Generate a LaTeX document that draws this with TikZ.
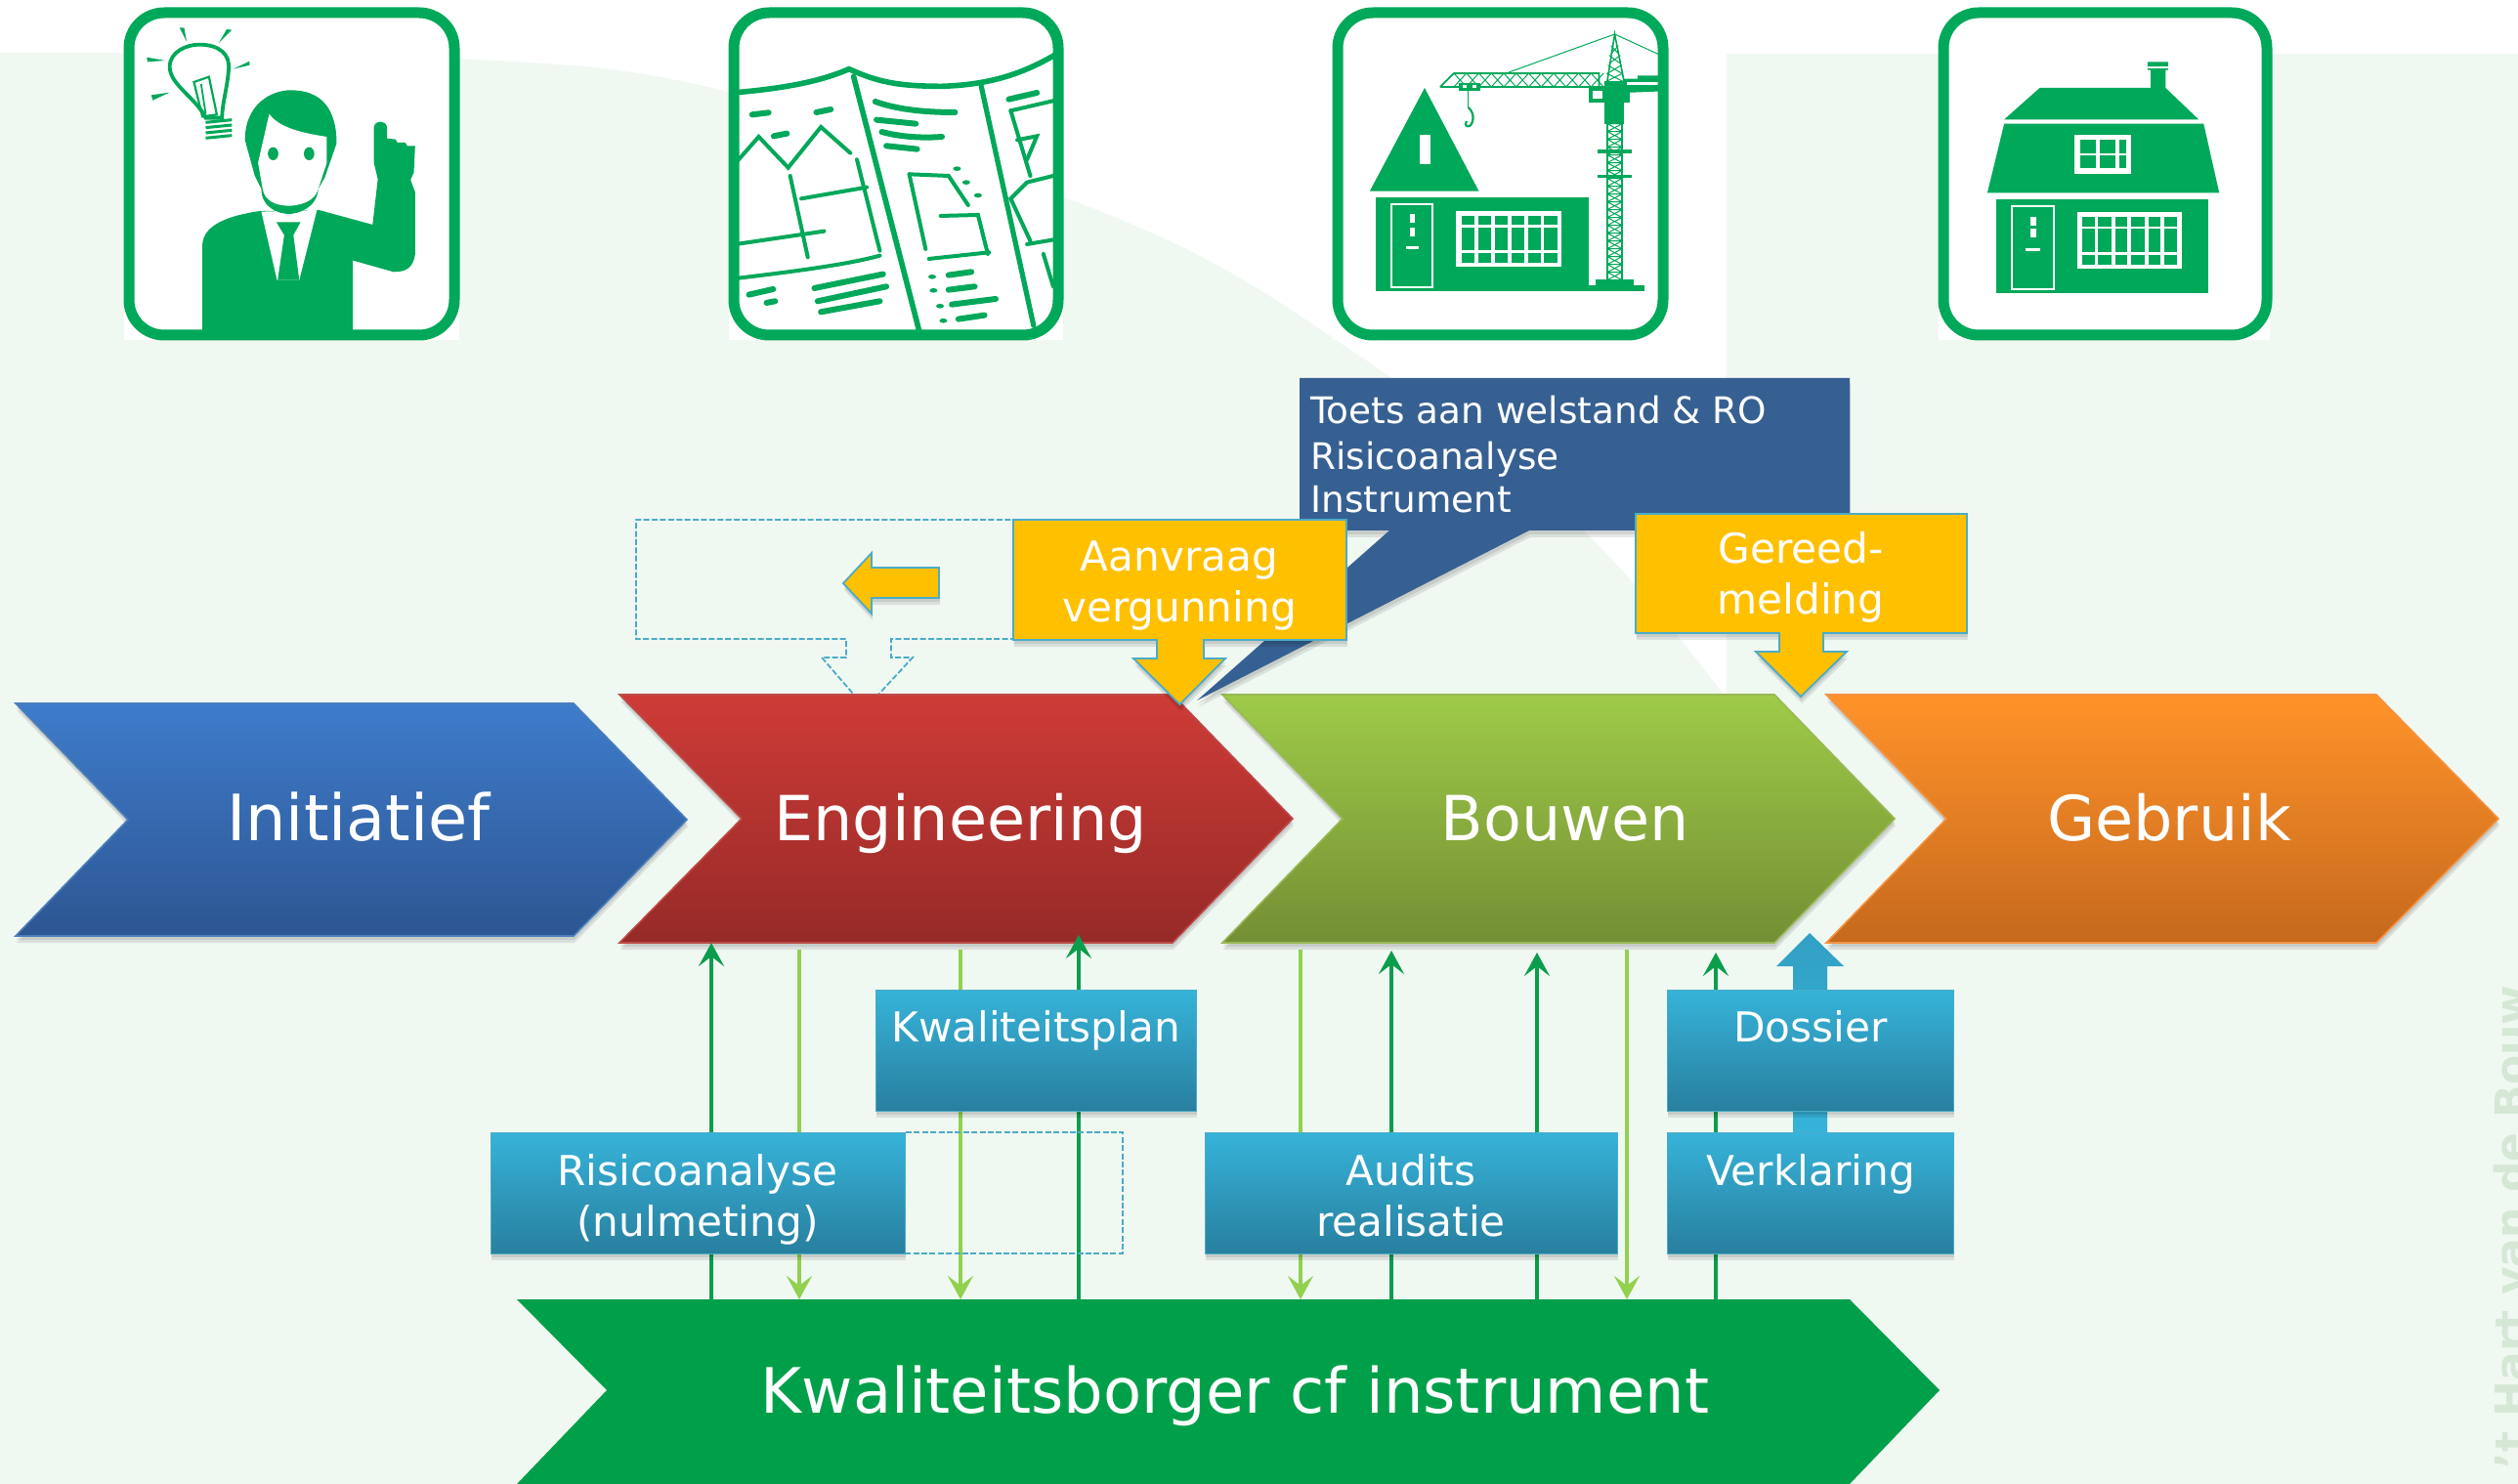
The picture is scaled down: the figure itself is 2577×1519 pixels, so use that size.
\documentclass[tikz,border=0pt]{standalone}
\usepackage{fontspec}
\setmainfont{DejaVu Sans}
\usetikzlibrary{arrows.meta,shadows}
\definecolor{pale}{HTML}{F0F8F2}
\definecolor{ic}{HTML}{00A859}
\definecolor{kb}{HTML}{00A04A}
\definecolor{lg}{HTML}{92D050}
\definecolor{dg}{HTML}{0A9E4C}
\definecolor{yl}{HTML}{FFC000}
\definecolor{tl}{HTML}{4BACC6}
\definecolor{navy}{HTML}{376092}
\definecolor{wm}{HTML}{D5E8D6}
\definecolor{boxT}{HTML}{36B3D9}
\definecolor{boxM}{HTML}{31A0C4}
\definecolor{boxB}{HTML}{287F9E}
\definecolor{boxE}{HTML}{4BACC6}
\definecolor{chevBlueT}{HTML}{3E7CCB}
\definecolor{chevBlueB}{HTML}{2D5692}
\definecolor{chevBlueE}{HTML}{4A7EBB}
\definecolor{chevRedT}{HTML}{CE3B37}
\definecolor{chevRedB}{HTML}{962A27}
\definecolor{chevRedE}{HTML}{BE4B48}
\definecolor{chevGrnT}{HTML}{9ECB48}
\definecolor{chevGrnB}{HTML}{748F34}
\definecolor{chevGrnE}{HTML}{98B954}
\definecolor{chevOrT}{HTML}{FF9329}
\definecolor{chevOrB}{HTML}{C6691D}
\definecolor{chevOrE}{HTML}{F69240}
\newcommand{\fs}[1]{\fontsize{#1}{#1}\selectfont}
\tikzset{
  x=0.5pt,y=-0.5pt,
  sh/.style={general shadow={shadow xshift=.5pt,shadow yshift=-3.5pt,fill=black,opacity=.09},general shadow={shadow xshift=.3pt,shadow yshift=-2pt,fill=black,opacity=.09}},
  chev/.style={sh,line width=.8pt},
  big/.style={text=white,anchor=base,inner sep=0pt,font=\fs{31.8}},
  lbl/.style={text=white,anchor=base,inner sep=0pt,font=\fs{21.1}},
  tlbl/.style={text=white,anchor=base west,inner sep=0pt,font=\fs{18.7}},
  bluebox/.style={rectangle,anchor=north west,inner sep=0pt,sh,top color=boxT,middle color=boxM,bottom color=boxB,draw=boxE,line width=.4pt},
  yellowbox/.style={sh,fill=yl,draw=tl,line width=.9pt},
  dashbox/.style={draw=tl,line width=.9pt,dash pattern=on 3pt off 1.2pt},
  uparrow/.style={draw=dg,line width=2.2pt,-{Stealth[length=12pt,width=13pt,inset=5pt]}},
  downarrow/.style={draw=lg,line width=2.2pt,-{Stealth[length=12pt,width=13pt,inset=5pt]}},
  iline/.style={draw=ic,line width=2pt,line cap=round},
  iz1/.style={shift={(100,0)},xscale=0.6698,yscale=0.3333},
  iz2/.style={shift={(1340,0)},xscale=0.6378,yscale=0.3333},
  iconframe/.style={draw=ic,line width=5.5pt,rounded corners=18pt},
}
\begin{document}
\begin{tikzpicture}
\useasboundingbox (0,0) rectangle (2577,1519);
\clip (0,0) rectangle (2577,1519);
% background
\fill[white] (0,0) rectangle (2577,1519);
\fill[pale] (0,54) -- plot[smooth,tension=.6] coordinates {(0,54) (468,60) (750,95) (1150,226) (1385,360) (1620,543) (1763,710)} -- (1767,710) -- (1767,1519) -- (0,1519) -- cycle;
\fill[pale] (1767,55) rectangle (2577,1519);
% watermark
\node[rotate=90,anchor=base east,inner sep=0pt,text=wm,font={\bfseries\fs{22}}] (wmark) at (2585,1008) {’t Hart van de Bouw};

% ---- icon 1: man
\fill[white] (127,8) rectangle (470,348);
\begin{scope}[iz1]
\fill[ic] (160,1015) -- (160,750) .. controls (162,690) and (200,662) .. (248,648) -- (338,645) -- (420,690) -- (428,550) -- (422,500) -- (422,390) .. controls (424,368) and (440,368) .. (442,390) -- (442,425) -- (455,428) -- (458,438) -- (470,438) -- (473,448) -- (485,448) -- (483,530) -- (478,552) -- (485,590) -- (485,780) .. controls (482,825) and (470,835) .. (452,835) -- (390,800) -- (390,1015) -- cycle;
\fill[white] (250,650) -- (274,860) -- (308,860) -- (335,645) -- cycle;
\fill[ic] (273,682) -- (310,682) -- (299,722) -- (308,860) -- (275,860) -- (285,722) -- cycle;
\fill[ic] (225,430) .. controls (225,320) and (265,277) .. (295,277) .. controls (340,277) and (365,330) .. (365,440) -- (347,545) -- (337,580) .. controls (335,640) and (305,657) .. (292,657) .. controls (278,657) and (250,640) .. (250,580) -- (240,540) -- cycle;
\fill[white] (262,350) .. controls (275,385) and (300,405) .. (350,420) -- (350,500) -- (337,580) .. controls (332,622) and (305,632) .. (292,632) .. controls (275,632) and (255,620) .. (252,580) -- (245,500) -- cycle;
\fill[ic] (268,472) ellipse [x radius=8,y radius=20];
\fill[ic] (323,472) ellipse [x radius=8,y radius=20];
% bulb
\draw[ic,line width=1.9pt] (165,362) .. controls (150,300) and (110,260) .. (110,205) .. controls (110,160) and (135,137) .. (155,137) .. controls (185,137) and (203,165) .. (200,215) .. controls (198,270) and (190,320) .. (190,362) -- cycle;
\draw[ic,line width=1.1pt] (147,252) -- (170,236) -- (182,352) -- (160,358) -- cycle;
\draw[ic,line width=.9pt] (158,258) -- (165,350);
\foreach \yy in {376,392,408,424} \draw[ic,line width=1.5pt] (165,\yy) -- (205,\yy-8);
\fill[ic] (125,85) -- (132,85) -- (136,128) -- cycle;
\fill[ic] (197,90) -- (205,92) -- (185,132) -- cycle;
\fill[ic] (75,176) -- (103,186) -- (76,190) -- cycle;
\fill[ic] (232,188) -- (232,200) -- (207,212) -- cycle;
\fill[ic] (82,292) -- (110,284) -- (84,308) -- cycle;
\end{scope}
\draw[iconframe] (132,13) rectangle (465,343);

% ---- icon 2: plan
\fill[white] (746,8) rectangle (1088,348);
\begin{scope}
\clip[rounded corners=18pt] (751,13) rectangle (1083,343);
\begin{scope}[iz1]
\draw[iline,line width=2.8pt] (970,285) .. controls (1060,270) and (1110,245) .. (1148,212) .. controls (1190,250) and (1220,265) .. (1290,265) .. controls (1370,260) and (1420,220) .. (1470,160);
\draw[iline,line width=2.8pt] (1155,235) -- (1255,1015);
\draw[iline,line width=2.6pt] (1350,265) -- (1430,1000);
\foreach \a/\b in {{(1000,352)}/{(1025,346)},{(1098,345)}/{(1120,336)},{(1033,418)}/{(1053,410)},{(1392,305)}/{(1435,285)},{(995,905)}/{(1032,888)},{(1022,930)}/{(1035,925)},{(1095,885)}/{(1200,842)},{(1100,925)}/{(1205,880)},{(1105,958)}/{(1195,925)},{(1190,368)}/{(1250,380)},{(1205,448)}/{(1252,458)},{(1300,845)}/{(1335,835)},{(1300,890)}/{(1340,880)},{(1305,935)}/{(1372,918)},{(1315,980)}/{(1355,968)}}
  \draw[iline,line width=3pt] \a -- \b;
\draw[iline] (975,500) -- (1010,420) -- (1055,515) -- (1105,390) -- (1150,470);
\draw[iline] (1160,490) -- (1195,770);
\draw[iline] (1058,540) -- (1085,790);
\draw[iline] (1075,610) -- (1175,575);
\draw[iline] (975,750) -- (1110,710);
\draw[iline] (975,855) .. controls (1080,830) and (1150,810) .. (1195,785);
\draw[iline,line width=3pt] (1188,312) .. controls (1220,335) and (1260,345) .. (1310,345);
\draw[iline,line width=3pt] (1198,405) .. controls (1225,420) and (1260,425) .. (1290,420);
\foreach \p in {(1313,518),(1327,560),(1345,600),(1275,850),(1277,892),(1287,940),(1292,985)}
  \fill[ic] \p circle [x radius=6,y radius=7];
\draw[iline] (1240,535) -- (1265,765);
\draw[iline] (1240,535) -- (1300,540) -- (1330,630);
\draw[iline] (1288,663) -- (1345,660) -- (1360,780);
\draw[iline] (1270,795) -- (1362,775);
\draw[iline] (1395,340) -- (1470,305);
\draw[iline] (1395,340) -- (1425,540);
\draw[iline] (1405,430) -- (1435,418) -- (1420,490);
\draw[iline] (1470,535) -- (1420,560) -- (1395,610) -- (1425,740);
\draw[iline] (1420,750) -- (1470,733);
\draw[iline] (1445,780) -- (1460,880);
\end{scope}
\end{scope}
\draw[iconframe] (751,13) rectangle (1083,343);

% ---- icon 3: crane
\fill[white] (1364,8) rectangle (1707,348);
\begin{scope}
\clip[rounded corners=18pt] (1369,13) rectangle (1702,343);
\begin{scope}[iz2]
\fill[ic] (185,270) -- (272,587) -- (97,587) -- cycle;
\fill[white] (177,415) rectangle (195,503);
\fill[ic] (107,605) rectangle (448,893);
\draw[white,line width=1pt] (132,627) rectangle (198,882);
\fill[white] (162,658) rectangle (170,685);
\fill[white] (162,698) rectangle (170,725);
\fill[white] (155,757) rectangle (176,764);
\fill[white] (235,648) rectangle (405,820);
\foreach \xa/\xb in {244/265,271/292,298/318,324/345,351/371,377/398}
  \foreach \ya/\yb in {662/690,698/768,778/806}
    \fill[ic] (\xa,\ya) rectangle (\xb,\yb);
% tower
\foreach \yy in {380,404,...,836} {
  \draw[ic,line width=.5pt] (478,\yy) -- (502,\yy+24) (502,\yy) -- (478,\yy+24) (478,\yy) -- (502,\yy);
}
\draw[ic,line width=.9pt] (478,380) -- (478,860) (502,380) -- (502,860);
\fill[ic] (463,460) rectangle (518,470);
\fill[ic] (463,536) rectangle (518,546);
\fill[ic] (460,858) rectangle (520,876);
\fill[ic] (448,875) rectangle (538,893);
% head
\fill[ic] (474,250) rectangle (505,380);
\fill[ic] (448,265) rectangle (515,315);
\fill[white] (454,278) rectangle (470,302);
\fill[ic] (505,242) -- (527,242) -- (527,232) -- (570,232) -- (570,280) -- (505,285) -- cycle;
\fill[white] (510,252) rectangle (570,260);
% mast
\draw[ic,line width=.8pt] (478,250) -- (490,105) -- (505,250);
\foreach \yy/\hw in {140/6,170/9,200/11,225/13} \draw[ic,line width=.5pt] (490-\hw,\yy) -- (490+\hw,\yy+25) (490+\hw,\yy) -- (490-\hw,\yy+25);
\draw[ic,line width=.5pt] (320,222) -- (490,105) -- (570,175);
% jib
\draw[ic,line width=.9pt] (210,267) -- (465,267) (232,225) -- (465,225) -- (465,267) (210,267) -- (232,225);
\foreach \xx in {232,252,...,452} \draw[ic,line width=.5pt] (\xx,225) -- (\xx+20,267) (\xx+20,225) -- (\xx,267);
% trolley + hook
\fill[ic] (240,255) rectangle (275,280);
\fill[white] (246,262) rectangle (252,270);
\fill[white] (262,262) rectangle (268,270);
\draw[ic,line width=.8pt] (255,280) -- (255,330);
\draw[ic,line width=1.1pt] (255,330) .. controls (268,350) and (262,388) .. (255,388) .. controls (250,388) and (250,378) .. (252,372);
\end{scope}
\end{scope}
\draw[iconframe] (1369,13) rectangle (1702,343);

% ---- icon 4: house
\fill[white] (1984,8) rectangle (2323,348);
\begin{scope}[iz2]
\fill[ic] (1172,270) -- (1350,270) -- (1350,215) -- (1345,215) -- (1345,190) -- (1378,190) -- (1378,215) -- (1374,215) -- (1374,270) -- (1427,367) -- (1115,367) -- cycle;
\fill[white] (1345,205) rectangle (1378,209);
\fill[ic] (1115,380) -- (1435,380) -- (1460,592) -- (1088,592) -- cycle;
\fill[white] (1228,413) rectangle (1318,533);
\foreach \xa/\xb in {1237/1262,1268/1293,1299/1310}
  \foreach \ya/\yb in {430/470,477/517}
    \fill[ic] (\xa,\ya) rectangle (\xb,\yb);
\fill[ic] (1102,612) rectangle (1443,900);
\draw[white,line width=1pt] (1128,632) rectangle (1195,888);
\fill[white] (1157,665) rectangle (1166,692);
\fill[white] (1157,703) rectangle (1166,730);
\fill[white] (1150,763) rectangle (1172,770);
\fill[white] (1232,652) rectangle (1400,825);
\foreach \xa/\xb in {1240/1260,1266/1287,1293/1313,1319/1340,1346/1366,1372/1392}
  \foreach \ya/\yb in {667/695,702/775,782/812}
    \fill[ic] (\xa,\ya) rectangle (\xb,\yb);
\end{scope}
\draw[iconframe] (1989,13) rectangle (2320,343);

% ---- dashed frames (behind)
\draw[dashbox] (1124,654) -- (912,654) -- (912,673) -- (934,673) -- (886,725) -- (841,673) -- (866,673) -- (866,654) -- (651,654) -- (651,532) -- (1124,532);

% ---- main chevrons
\path[chev,top color=chevBlueT,bottom color=chevBlueB,draw=chevBlueE] (16,720) -- (587,720) -- (703,839) -- (587,958) -- (16,958) -- (131,839) -- cycle;
\node[big,font=\fs{32.7}] (initiatief) at (367,860) {Initiatief};

% ---- connector end points
\coordinate (dA) at (728,1330);  \coordinate (uA) at (728,965);
\coordinate (sB) at (818,972);   \coordinate (eB) at (818,1330);
\coordinate (sC) at (983,972);   \coordinate (eC) at (983,1330);
\coordinate (dD) at (1104,1330); \coordinate (uD) at (1104,957);
\coordinate (sE) at (1331,972);  \coordinate (eE) at (1331,1330);
\coordinate (dF) at (1424,1330); \coordinate (uF) at (1424,973);
\coordinate (dG) at (1573,1330); \coordinate (uG) at (1573,975);
\coordinate (sH) at (1665,972);  \coordinate (eH) at (1665,1330);
\coordinate (dI) at (1756,1330); \coordinate (uI) at (1756,975);

\path[chev,top color=chevRedT,bottom color=chevRedB,draw=chevRedE] (634,711) -- (1200,711) -- (1323,838) -- (1200,965) -- (634,965) -- (759,838) -- cycle;
\path[chev,top color=chevGrnT,bottom color=chevGrnB,draw=chevGrnE] (1251,711) -- (1816,711) -- (1939,838) -- (1816,965) -- (1251,965) -- (1374,838) -- cycle;
\path[chev,top color=chevOrT,bottom color=chevOrB,draw=chevOrE] (1869,711) -- (2432,711) -- (2557,838) -- (2432,965) -- (1869,965) -- (1992,838) -- cycle;
\node[big] (engineering) at (983,860) {Engineering};
\node[big] (bouwen) at (1602,860) {Bouwen};
\node[big] (gebruik) at (2220,860) {Gebruik};

% ---- quality-assurer bar
\fill[kb] (529,1330) -- (1893,1330) -- (1985,1423) -- (1893,1519) -- (529,1519) -- (621,1423) -- cycle;
\node[text=white,anchor=base,inner sep=0pt,font=\fs{32}] (kwal) at (1264,1446) {Kwaliteitsborger cf instrument};

% ---- vertical connectors
\draw[uparrow] (dA) -- (uA);
\draw[downarrow] (sB) -- (eB);
\draw[downarrow] (sC) -- (eC);
\draw[uparrow] (dD) -- (uD);
\draw[downarrow] (sE) -- (eE);
\draw[uparrow] (dF) -- (uF);
\draw[uparrow] (dG) -- (uG);
\draw[downarrow] (sH) -- (eH);
\draw[uparrow] (dI) -- (uI);

% thick blue arrow
\path[top color=boxM,bottom color=boxT] (1835,1159) -- (1835,989) -- (1818,989) -- (1852,955) -- (1887,989) -- (1870,989) -- (1870,1159) -- cycle;

% dashed rectangle
\draw[dashbox] (927,1159) -- (1149,1159) -- (1149,1283) -- (927,1283);

% blue boxes
\node[bluebox,minimum width=164pt,minimum height=62pt] (bKwal) at (896,1013) {};
\node[bluebox,minimum width=146.5pt,minimum height=62pt] (bDos) at (1706,1013) {};
\node[bluebox,minimum width=212pt,minimum height=62pt] (bRis) at (502,1159) {};
\node[bluebox,minimum width=211pt,minimum height=62pt] (bAud) at (1233,1159) {};
\node[bluebox,minimum width=146.5pt,minimum height=62pt] (bVer) at (1706,1159) {};
\node[lbl] (tKwal) at (1060,1066) {Kwaliteitsplan};
\node[lbl] (tDos) at (1853,1066) {Dossier};
\node[lbl] (tRis1) at (714,1213) {Risicoanalyse};
\node[lbl] (tRis2) at (714,1265) {(nulmeting)};
\node[lbl] (tAud1) at (1444,1213) {Audits};
\node[lbl] (tAud2) at (1444,1265) {realisatie};
\node[lbl] (tVer) at (1853,1213) {Verklaring};

% navy speech bubble
\fill[navy,sh] (1330,387) -- (1893,387) -- (1893,543) -- (1565,543) -- (1225,717) -- (1422,543) -- (1330,543) -- cycle;
\node[tlbl] (t1) at (1341,434) {Toets aan welstand \& RO};
\node[tlbl] (t2) at (1341,481) {Risicoanalyse};
\node[tlbl] (t3) at (1341,524) {Instrument};

% yellow callouts
\path[yellowbox] (1037,532) -- (1378,532) -- (1378,655) -- (1232,655) -- (1232,674) -- (1254,674) -- (1207.5,721) -- (1160,674) -- (1184,674) -- (1184,655) -- (1037,655) -- cycle;
\node[lbl] (aan1) at (1207,584) {Aanvraag};
\node[lbl] (aan2) at (1207,636) {vergunning};
\path[yellowbox] (1674,526) -- (2013,526) -- (2013,648) -- (1866,648) -- (1866,667) -- (1890,667) -- (1843,713) -- (1797,667) -- (1821,667) -- (1821,648) -- (1674,648) -- cycle;
\node[lbl] (ger1) at (1843,577) {Gereed-};
\node[lbl] (ger2) at (1843,628) {melding};
\path[yellowbox] (863,597) -- (892,566) -- (892,581) -- (961,581) -- (961,612) -- (892,612) -- (892,628) -- cycle;
\end{tikzpicture}
\end{document}
